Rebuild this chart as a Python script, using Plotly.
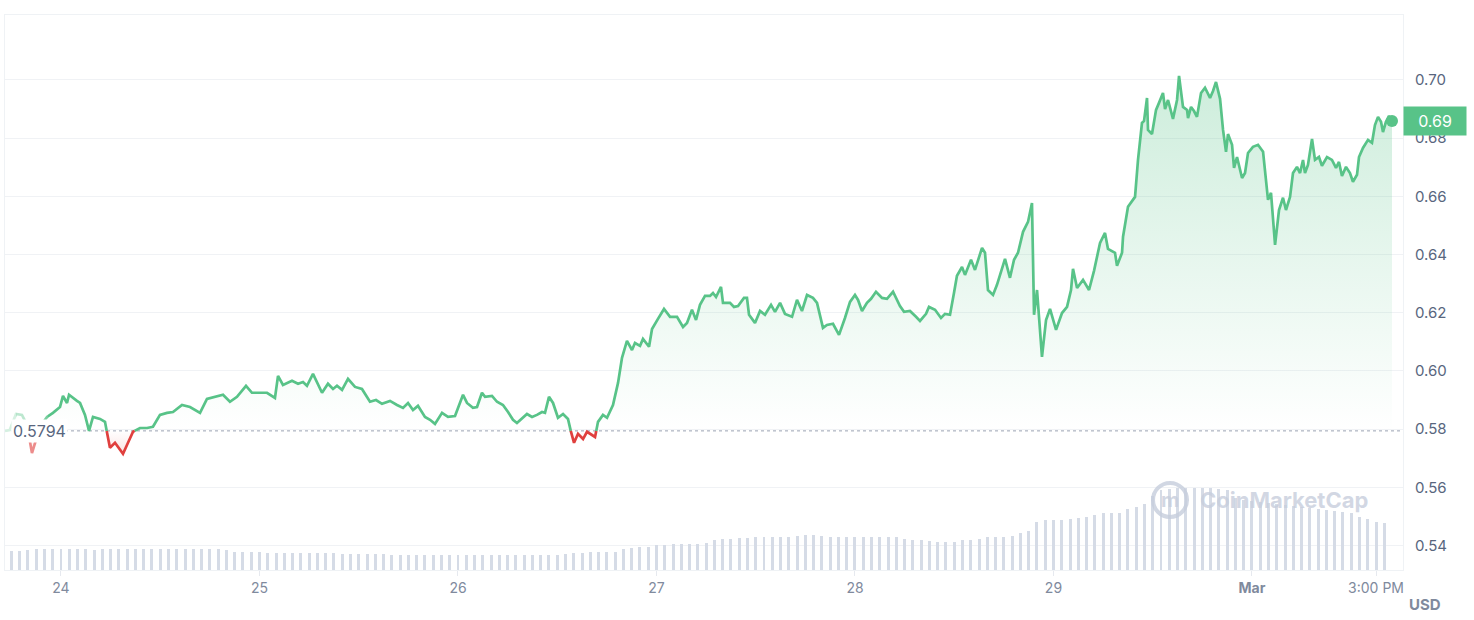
import pandas as pd
import plotly.graph_objects as go

# ---- price data: hours since 2024-02-23 00:00, price in USD ----
hours = [17.23, 17.8, 18.56, 19.28, 19.89, 20.49, 20.98, 21.46, 22.31, 23.03, 23.88, 24.24, 24.73, 24.97,
         25.93, 26.30, 26.90, 27.39, 27.87, 28.72, 29.32, 29.92, 30.53, 31.01, 31.50, 32.10, 32.71, 33.55,
         34.40, 35.12, 35.97, 36.82, 37.54, 38.63, 39.60, 40.81, 41.65, 42.86, 43.59, 44.43, 45.28, 46.37,
         47.09, 48.06, 48.91, 49.87, 50.24, 50.84, 51.93, 52.66, 53.26, 53.74, 54.47, 55.56, 56.28, 56.89,
         57.37, 57.98, 58.70, 59.55, 60.39, 61.36, 62.09, 62.81, 63.78, 64.63, 65.35, 65.96, 66.56, 67.16,
         68.01, 68.62, 69.22, 70.07, 70.79, 71.64, 72.00, 72.61, 73.09, 73.81, 74.30, 74.90, 75.27, 76.11,
         76.72, 77.44, 78.05, 78.65, 79.13, 79.74, 80.34, 80.95, 81.55, 82.16, 82.52, 83.00, 83.49, 84.09,
         84.70, 85.30, 85.66, 86.03, 86.51, 87.12, 87.60, 88.20, 88.57, 88.93, 89.53, 90.02, 90.74, 91.35,
         91.83, 92.43, 93.04, 93.40, 94.01, 94.37, 95.10, 95.46, 96.18, 96.91, 97.64, 98.48, 99.21, 99.69,
         100.29, 100.78, 101.26, 101.87, 102.47, 102.83, 103.20, 103.80, 104.04, 104.89, 105.37, 105.86,
         106.58, 106.94, 107.19, 107.91, 108.52, 109.12, 109.85, 110.33, 110.94, 111.54, 112.39, 112.99,
         113.59, 114.20, 114.92, 115.41, 116.13, 116.61, 117.34, 118.07, 118.79, 119.40, 120.00, 120.37,
         120.85, 121.45, 121.94, 122.54, 123.27, 123.87, 124.60, 125.44, 125.93, 126.65, 127.38, 127.86,
         128.59, 128.95, 129.68, 130.40, 130.88, 131.49, 131.97, 132.33, 132.94, 133.30, 134.03, 134.51,
         135.36, 135.72, 136.08, 136.69, 137.17, 137.78, 138.14, 138.74, 139.23, 139.71, 140.32, 140.92,
         141.40, 141.65, 142.01, 142.61, 143.10, 143.58, 144.31, 145.03, 145.64, 146.12, 146.36, 146.85,
         147.57, 148.30, 148.90, 149.63, 150.23, 150.59, 151.44, 151.68, 152.29, 152.41, 153.01, 153.86,
         154.22, 154.70, 154.95, 155.31, 155.43, 155.91, 156.40, 156.76, 157.24, 157.49, 157.85, 158.45,
         158.94, 159.18, 159.66, 160.15, 160.27, 160.63, 160.99, 161.35, 161.84, 162.32, 162.93, 163.29,
         163.65, 164.14, 164.50, 164.86, 165.10, 165.59, 165.83, 166.19, 166.80, 167.16, 167.52, 168.12,
         168.73, 169.34, 169.70, 169.94, 170.30, 170.79, 171.27, 171.75, 172.11, 172.60, 172.96, 173.44,
         173.81, 174.17, 174.41, 174.77, 175.26, 175.62, 176.10, 176.46, 177.07, 177.67, 178.16, 178.52,
         178.88, 179.37, 179.85, 180.21, 180.70, 180.94, 181.42, 182.03, 182.51, 182.87, 183.24, 183.60,
         183.84, 184.20, 184.57, 184.93]
prices = [0.5794, 0.5797, 0.5852, 0.5849, 0.5815, 0.5718, 0.5763, 0.5808, 0.5842, 0.5856, 0.5876, 0.5914,
          0.5890, 0.5918, 0.5897, 0.5890, 0.5849, 0.5794, 0.5842, 0.5835, 0.5825, 0.5736, 0.5753, 0.5736,
          0.5715, 0.5753, 0.5791, 0.5804, 0.5804, 0.5808, 0.5849, 0.5856, 0.5859, 0.5883, 0.5876, 0.5856,
          0.5904, 0.5914, 0.5918, 0.5894, 0.5911, 0.5949, 0.5925, 0.5925, 0.5925, 0.5907, 0.5983, 0.5952,
          0.5966, 0.5956, 0.5962, 0.5949, 0.5990, 0.5925, 0.5956, 0.5938, 0.5949, 0.5935, 0.5973, 0.5945,
          0.5938, 0.5894, 0.5900, 0.5887, 0.5897, 0.5883, 0.5873, 0.5890, 0.5866, 0.5880, 0.5842, 0.5832,
          0.5818, 0.5856, 0.5842, 0.5845, 0.5870, 0.5918, 0.5890, 0.5873, 0.5876, 0.5925, 0.5911, 0.5914,
          0.5894, 0.5883, 0.5859, 0.5832, 0.5821, 0.5835, 0.5852, 0.5842, 0.5849, 0.5859, 0.5856, 0.5911,
          0.5890, 0.5839, 0.5852, 0.5835, 0.5791, 0.5753, 0.5784, 0.5766, 0.5791, 0.5780, 0.5773, 0.5825,
          0.5849, 0.5839, 0.5883, 0.5959, 0.6045, 0.6103, 0.6072, 0.6096, 0.6086, 0.6110, 0.6083, 0.6144,
          0.6179, 0.6213, 0.6186, 0.6186, 0.6151, 0.6165, 0.6210, 0.6175, 0.6227, 0.6258, 0.6258, 0.6268,
          0.6254, 0.6289, 0.6234, 0.6234, 0.6220, 0.6223, 0.6251, 0.6251, 0.6193, 0.6165, 0.6206, 0.6193,
          0.6227, 0.6203, 0.6234, 0.6196, 0.6186, 0.6244, 0.6206, 0.6261, 0.6251, 0.6234, 0.6148, 0.6158,
          0.6162, 0.6124, 0.6182, 0.6237, 0.6261, 0.6244, 0.6206, 0.6234, 0.6248, 0.6272, 0.6251, 0.6248,
          0.6272, 0.6223, 0.6203, 0.6206, 0.6186, 0.6172, 0.6196, 0.6220, 0.6210, 0.6182, 0.6196, 0.6193,
          0.6268, 0.6327, 0.6357, 0.6330, 0.6382, 0.6347, 0.6423, 0.6406, 0.6278, 0.6261, 0.6296, 0.6347,
          0.6385, 0.6320, 0.6382, 0.6406, 0.6478, 0.6512, 0.6577, 0.6193, 0.6278, 0.6048, 0.6175, 0.6213,
          0.6141, 0.6199, 0.6220, 0.6278, 0.6351, 0.6285, 0.6313, 0.6278, 0.6344, 0.6440, 0.6474, 0.6419,
          0.6406, 0.6361, 0.6406, 0.6461, 0.6564, 0.6598, 0.6725, 0.6852, 0.6859, 0.6938, 0.6828, 0.6814,
          0.6897, 0.6921, 0.6955, 0.6900, 0.6931, 0.6866, 0.6931, 0.7014, 0.6907, 0.6897, 0.6869, 0.6907,
          0.6893, 0.6873, 0.6955, 0.6973, 0.6938, 0.6962, 0.6993, 0.6935, 0.6828, 0.6753, 0.6814, 0.6777,
          0.6698, 0.6735, 0.6663, 0.6680, 0.6749, 0.6770, 0.6777, 0.6753, 0.6646, 0.6588, 0.6612, 0.6433,
          0.6553, 0.6595, 0.6553, 0.6598, 0.6680, 0.6701, 0.6680, 0.6725, 0.6680, 0.6708, 0.6797, 0.6725,
          0.6735, 0.6705, 0.6735, 0.6725, 0.6698, 0.6718, 0.6670, 0.6701, 0.6680, 0.6650, 0.6674, 0.6735,
          0.6766, 0.6794, 0.6784, 0.6845, 0.6873, 0.6856, 0.6821, 0.6856, 0.6876, 0.6859]

# ---- hourly 24h volume (million USD), first bar at hour 17 ----
vol_start_hour = 17
volume_m = [28, 28, 29, 30, 31, 31, 31, 31, 31, 31, 31, 30, 31, 31, 31, 31, 31, 31, 31, 31, 31, 31, 31, 31,
            31, 31, 31, 30, 27, 27, 27, 27, 25, 25, 26, 25, 25, 25, 25, 25, 25, 24, 24, 24, 24, 24, 24, 23,
            22, 22, 22, 22, 22, 22, 22, 22, 22, 22, 22, 22, 22, 22, 22, 22, 22, 22, 22, 22, 24, 25, 25, 27,
            27, 27, 27, 31, 33, 34, 34, 37, 37, 39, 39, 39, 39, 40, 45, 46, 46, 48, 48, 49, 49, 49, 49, 49,
            51, 52, 52, 51, 49, 49, 49, 49, 49, 49, 49, 49, 49, 46, 45, 45, 43, 42, 42, 42, 45, 45, 46, 49,
            49, 49, 51, 55, 58, 72, 75, 75, 75, 76, 78, 79, 82, 85, 85, 85, 91, 94, 99, 111, 120, 121, 123,
            123, 123, 123, 123, 121, 120, 108, 105, 103, 102, 100, 99, 97, 96, 94, 93, 91, 90, 88, 87, 85,
            79, 76, 72, 70]

day_ticks = [24, 48, 72, 96, 120, 144, 168, 183]
day_labels = ["24", "25", "26", "27", "28", "29", "<b>Mar</b>", "3:00 PM"]
y_ticks = [0.54, 0.56, 0.58, 0.60, 0.62, 0.64, 0.66, 0.68, 0.70]

T0 = pd.Timestamp("2024-02-23")


def to_time(hs):
    return [T0 + pd.Timedelta(hours=float(v)) for v in hs]


base = prices[0]

# insert baseline crossings so green/red segments meet exactly
th, tp = [], []
for i, (h, p) in enumerate(zip(hours, prices)):
    if i > 0:
        p0, h0 = prices[i - 1], hours[i - 1]
        if (p0 - base) * (p - base) < 0:
            f = (base - p0) / (p - p0)
            th.append(h0 + f * (h - h0))
            tp.append(base)
    th.append(h)
    tp.append(p)

tx = to_time(th)
green_y = [p if p >= base else None for p in tp]
red_y = [p if p <= base else None for p in tp]
upper = [max(p, base) for p in tp]
lower = [min(p, base) for p in tp]

GREEN = "#58c388"
RED = "#e0403e"
WM = "rgba(198,205,220,0.8)"

fig = go.Figure()

# volume bars
vol_x = to_time([vol_start_hour + i for i in range(len(volume_m))])
fig.add_trace(go.Bar(x=vol_x, y=volume_m, yaxis="y2", marker=dict(color="#d5dbe6", line=dict(width=0)),
                     width=0.36 * 3600 * 1000, hoverinfo="skip", showlegend=False))

# fills
fig.add_trace(go.Scatter(x=tx, y=[base] * len(tx), mode="lines", line=dict(width=0), hoverinfo="skip",
                         showlegend=False))
fig.add_trace(go.Scatter(x=tx, y=upper, mode="lines", line=dict(width=0), fill="tonexty",
                         fillgradient=dict(type="vertical", start=base, stop=max(prices),
                                           colorscale=[[0, "rgba(88,195,136,0.0)"], [1, "rgba(88,195,136,0.30)"]]),
                         hoverinfo="skip", showlegend=False))
fig.add_trace(go.Scatter(x=tx, y=[base] * len(tx), mode="lines", line=dict(width=0), hoverinfo="skip",
                         showlegend=False))
fig.add_trace(go.Scatter(x=tx, y=lower, mode="lines", line=dict(width=0), fill="tonexty",
                         fillgradient=dict(type="vertical", start=min(prices), stop=base,
                                           colorscale=[[0, "rgba(224,64,62,0.15)"], [1, "rgba(224,64,62,0.0)"]]),
                         hoverinfo="skip", showlegend=False))

# baseline dotted
fig.add_trace(go.Scatter(x=to_time([hours[0], 186.3]), y=[base, base], mode="lines",
                         line=dict(color="#9aa3b2", width=1, dash="dot"), hoverinfo="skip", showlegend=False))

# price line
fig.add_trace(go.Scatter(x=tx, y=green_y, mode="lines", line=dict(color=GREEN, width=2.7),
                         showlegend=False))
fig.add_trace(go.Scatter(x=tx, y=red_y, mode="lines", line=dict(color=RED, width=2.7),
                         showlegend=False))
fig.add_trace(go.Scatter(x=to_time([hours[-1]]), y=[prices[-1]], mode="markers",
                         marker=dict(color=GREEN, size=12), showlegend=False))

# fade at left edge
fades = [(17.0, 18.6, 0.75), (18.6, 20.0, 0.6), (20.0, 21.2, 0.4), (21.2, 22.4, 0.2)]
for a, b, op in fades:
    fig.add_shape(type="rect", xref="x", yref="y", x0=T0 + pd.Timedelta(hours=a), x1=T0 + pd.Timedelta(hours=b),
                  y0=0.566, y1=0.596, fillcolor="white", opacity=op, line=dict(width=0), layer="above")

# watermark logo
fig.add_shape(type="circle", xref="paper", yref="paper", x0=0.8212, x1=0.8455, y0=0.0955, y1=0.1568,
              line=dict(color=WM, width=4), layer="above")
fig.add_annotation(xref="paper", yref="paper", x=0.8333, y=0.127, xanchor="center", yanchor="middle",
                   text="<b>m</b>", showarrow=False,
                   font=dict(family="Inter", size=20, color=WM))
fig.add_annotation(xref="paper", yref="paper", x=0.8534, y=0.126, xanchor="left", yanchor="middle",
                   text="<b>CoinMarketCap</b>", showarrow=False,
                   font=dict(family="Inter", size=22, color=WM))

# labels
fig.add_annotation(xref="paper", yref="y", x=0.004, y=base, xanchor="left", text="0.5794", showarrow=False,
                   bgcolor="white", font=dict(family="Inter", size=16, color="#58667e"), borderpad=1)
fig.add_annotation(xref="paper", yref="y", x=1.0, y=prices[-1], xanchor="left", yanchor="middle",
                   text=f"{prices[-1]:.2f}",
                   showarrow=False, bgcolor=GREEN, width=56, height=22, borderpad=3, align="center",
                   font=dict(family="Inter", size=16, color="white"))
fig.add_annotation(xref="paper", yref="paper", x=1.0157, y=-0.0613, xanchor="center", yanchor="middle",
                   text="<b>USD</b>", showarrow=False,
                   font=dict(family="Inter", size=15, color="#808a9d"))

fig.update_layout(
    width=1474, height=620,
    margin=dict(l=5, r=71, t=15, b=50),
    paper_bgcolor="white", plot_bgcolor="white",
    font=dict(family="Inter", color="#58667e"),
    bargap=0,
    xaxis=dict(range=[T0 + pd.Timedelta(hours=17.23), T0 + pd.Timedelta(hours=186.26)],
               tickvals=to_time(day_ticks), ticktext=day_labels, showgrid=False,
               ticks="outside", ticklen=5, tickcolor="#e6e9ef",
               tickfont=dict(family="Inter", size=14, color="#808a9d"),
               showline=True, linecolor="#eff2f5", linewidth=1, mirror=True, zeroline=False),
    yaxis=dict(side="right", range=[0.5316, 0.7223], tickvals=y_ticks, tickformat=".2f",
               showgrid=True, gridcolor="#f0f2f5", gridwidth=1, ticks="", ticklabelstandoff=8,
               tickfont=dict(family="Inter", size=15, color="#58667e"),
               showline=True, linecolor="#eff2f5", mirror=True, zeroline=False),
    yaxis2=dict(overlaying="y", range=[0, 832], visible=False, showgrid=False),
)

fig.write_html("out.html", config={"displayModeBar": False},
               post_script="document.body.style.margin='0';document.body.style.padding='0';")
